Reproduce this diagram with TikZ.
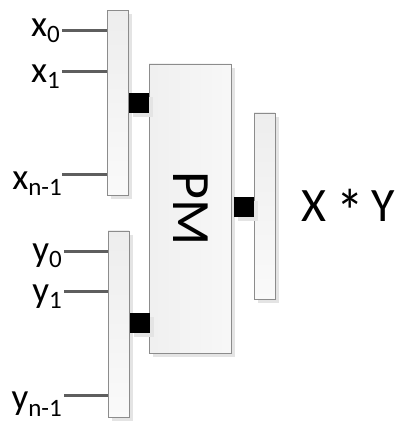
\documentclass[tikz,border=0pt]{standalone}
\usepackage{fontspec}
\setmainfont{Carlito}
\usetikzlibrary{shadows}
\definecolor{edgegray}{HTML}{8C8C8C}
\definecolor{wiregray}{HTML}{5E5E5E}
\definecolor{shadegray}{HTML}{E4E4E4}
\newcommand\sublabel[2]{#1{\fontsize{25}{25}\selectfont\raisebox{-6pt}{#2}}}
\newcommand\bigast{\raisebox{-12pt}{\scalebox{1.15}[1.3]{*}}}
\begin{document}
\begin{tikzpicture}[x=1pt,y=1pt,
  flat/.style={drop shadow={shadow xshift=4pt,shadow yshift=-4pt,fill=shadegray,opacity=1}},
  bus/.style={rectangle,draw=edgegray,line width=0.7pt,top color=black!7,bottom color=black!2,
    minimum width=21pt,inner sep=0pt,flat},
  unit/.style={rectangle,draw=edgegray,line width=0.7pt,left color=black!6,right color=black!3,
    inner sep=0pt,flat},
  port/.style={rectangle,fill=black,minimum width=20pt,minimum height=20pt,inner sep=0pt,flat},
  wireline/.style={draw=wiregray,line width=3pt},
  inlabel/.style={anchor=base east,inner sep=0pt,font=\fontsize{37}{37}\selectfont}]
\useasboundingbox (0,0) rectangle (397,421);

% input buses
\node[bus,minimum height=185pt] (xbus) at (117.5,318) {};
\node[bus,minimum height=186pt] (ybus) at (118.5,97) {};
% multiplier block and output bus
\node[unit,minimum width=82pt,minimum height=289pt] (pm) at (190,212.5) {};
\node[bus,minimum height=186pt] (outbus) at (264.5,215) {};

% ports
\node[port] (xport) at (139,318) {};
\node[port] (yport) at (139.5,98) {};
\node[port] (outport) at (243.5,214) {};

\node[rotate=-90,font=\fontsize{54}{54}\selectfont,inner sep=0pt] (pmtext) at (191,212.5) {PM};
\node[anchor=base west,font=\fontsize{48}{48}\selectfont,inner sep=0pt] (prod) at (301,199)
  {X\kern10pt\bigast\kern8pt Y};

% input wires
\coordinate (xw0) at (62,390);
\coordinate (xw1) at (62,349);
\coordinate (xwn) at (62,246);
\coordinate (yw0) at (64,169);
\coordinate (yw1) at (64,129);
\coordinate (ywn) at (64,25);
\draw[wireline] (xw0) -- (xw0 -| xbus.west);
\draw[wireline] (xw1) -- (xw1 -| xbus.west);
\draw[wireline] (xwn) -- (xwn -| xbus.west);
\draw[wireline] (yw0) -- (yw0 -| ybus.west);
\draw[wireline] (yw1) -- (yw1 -| ybus.west);
\draw[wireline] (ywn) -- (ywn -| ybus.west);

% labels
\node[inlabel] (lx0) at (60,384) {\sublabel{x}{0}};
\node[inlabel] (lx1) at (60,338) {\sublabel{x}{1}};
\node[inlabel] (lxn) at (62,231) {\sublabel{x}{n-1}};
\node[inlabel] (ly0) at (62,159) {\sublabel{y}{0}};
\node[inlabel] (ly1) at (62,118) {\sublabel{y}{1}};
\node[inlabel] (lyn) at (62,11) {\sublabel{y}{n-1}};
\end{tikzpicture}
\end{document}
